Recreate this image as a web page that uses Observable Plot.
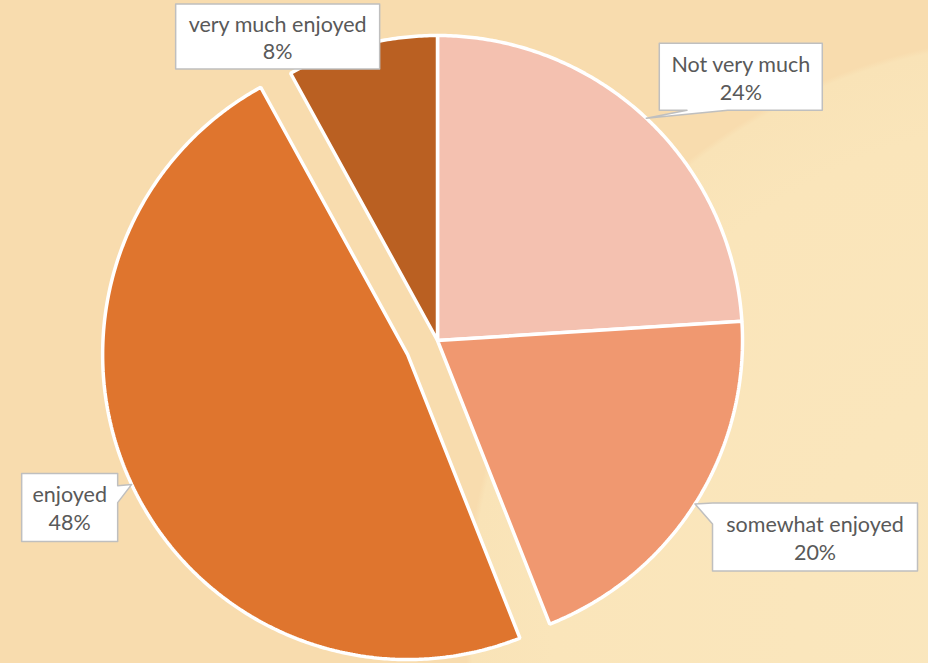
<!DOCTYPE html>
<html>
<head>
<meta charset="utf-8">
<script src="https://cdn.jsdelivr.net/npm/d3@7"></script>
<script src="https://cdn.jsdelivr.net/npm/@observablehq/plot@0.6"></script>
<style>
  html, body { margin: 0; padding: 0; }
  body {
    width: 928px; height: 663px; overflow: hidden;
    background: radial-gradient(circle 585px at 1050px 620px, #FAE7BE 0%, #FAE5BA 85%, #F9E3B7 99%, #F8DCAE 100%);
    background-color: #F8DCAE;
  }
  #chart svg { display: block; background: transparent; }
</style>
</head>
<body>
<div id="chart"></div>
<script>
// ---- data ----
const categories = ["Not very much", "somewhat enjoyed", "enjoyed", "very much enjoyed"];
const values = [24, 20, 48, 8];
const colors = ["#F4C1B0", "#F09870", "#DF752E", "#BA6022"];

// ---- layout (pixels) ----
const W = 928, H = 663;
const CX = 437, CY = 340, R = 305;
const explode = [0, 0, 33, 0];
const callouts = [
  {dx: 94.5, dy: -41.5, w: 163, h: 67, side: "bottom", base: [0.17, 0.42]},
  {dx: 120, dy: 33, w: 205, h: 68, side: "left", base: [0, 0.31]},
  {dx: -62, dy: 23, w: 96, h: 68, side: "right", base: [0.18, 0.43]},
  {dx: -84, dy: -8.5, w: 204, h: 65, side: null, base: null}
];

const total = d3.sum(values);
const pie = d3.pie().sort(null).value(d => d.value)
  .startAngle(0).endAngle(2 * Math.PI);
const arcs = pie(categories.map((c, i) => ({cat: c, value: values[i], i})));

// slice polygons in data units (1 unit = 1px, y up, origin at pie center)
const slicePts = [];
for (const a of arcs) {
  const i = a.data.i;
  const mid = (a.startAngle + a.endAngle) / 2;
  const ox = explode[i] * Math.sin(mid), oy = explode[i] * Math.cos(mid);
  slicePts.push({cat: a.data.cat, x: ox, y: oy});
  const n = Math.max(8, Math.ceil((a.endAngle - a.startAngle) / (Math.PI / 360)));
  for (let k = 0; k <= n; k++) {
    const t = a.startAngle + (a.endAngle - a.startAngle) * k / n;
    slicePts.push({cat: a.data.cat, x: ox + R * Math.sin(t), y: oy + R * Math.cos(t)});
  }
}

// callouts
const calloutPts = [];
const labels = [];
arcs.forEach(a => {
  const i = a.data.i;
  const mid = (a.startAngle + a.endAngle) / 2;
  const ox = explode[i] * Math.sin(mid), oy = explode[i] * Math.cos(mid);
  const tipX = ox + R * Math.sin(mid), tipY = oy + R * Math.cos(mid);
  const c = callouts[i];
  const bx = tipX + c.dx, by = tipY - c.dy; // box center (data units)
  const l = -c.w / 2, r = c.w / 2, t = -c.h / 2, b = c.h / 2; // screen-relative
  const tx = -c.dx, ty = -c.dy; // tip relative (screen)
  let pts = [];
  pts.push([l, t]);
  if (c.side === "top") pts.push([l + c.base[0] * c.w, t], [tx, ty], [l + c.base[1] * c.w, t]);
  pts.push([r, t]);
  if (c.side === "right") pts.push([r, t + c.base[0] * c.h], [tx, ty], [r, t + c.base[1] * c.h]);
  pts.push([r, b]);
  if (c.side === "bottom") pts.push([l + c.base[1] * c.w, b], [tx, ty], [l + c.base[0] * c.w, b]);
  pts.push([l, b]);
  if (c.side === "left") pts.push([l, t + c.base[1] * c.h], [tx, ty], [l, t + c.base[0] * c.h]);
  for (const [px, py] of pts) calloutPts.push({cat: a.data.cat, x: bx + px, y: by - py});
  labels.push({x: bx, y: by, text: `${a.data.cat}\n${Math.round(a.data.value / total * 100)}%`});
});

const chart = Plot.plot({
  width: W, height: H,
  margin: 0,
  x: {domain: [-CX, W - CX], axis: null},
  y: {domain: [-(H - CY), CY], axis: null},
  color: {domain: categories, range: colors},
  style: {background: "transparent", fontFamily: "Lato, 'Open Sans', sans-serif"},
  marks: [
    Plot.line(slicePts, {x: "x", y: "y", z: "cat", fill: "cat", stroke: "white", strokeWidth: 3.5, strokeLinejoin: "miter", curve: "linear-closed"}),
    Plot.line(calloutPts, {x: "x", y: "y", z: "cat", fill: "white", stroke: "#BFBFBF", strokeWidth: 1.5, curve: "linear-closed"}),
    Plot.text(labels, {x: "x", y: "y", text: "text", fill: "#595959", fontSize: 21.5, lineHeight: 1.3, textAnchor: "middle"})
  ]
});
document.getElementById("chart").appendChild(chart);
</script>
</body>
</html>
